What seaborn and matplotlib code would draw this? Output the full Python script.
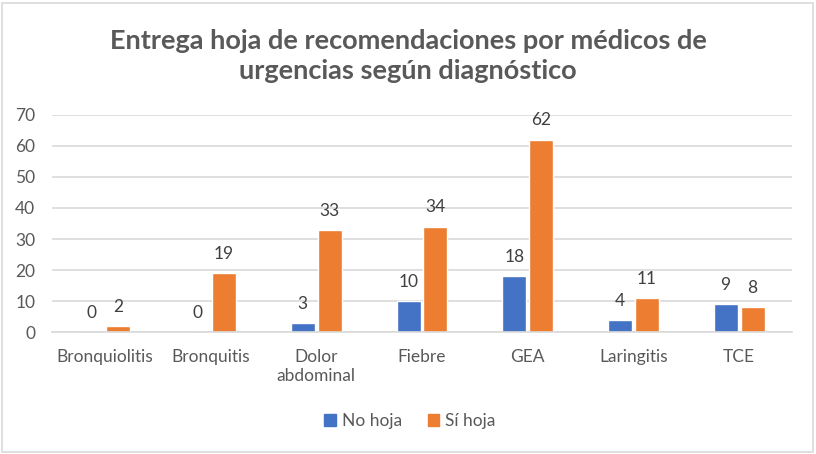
import matplotlib
matplotlib.use("Agg")
import matplotlib.pyplot as plt
import seaborn as sns
import pandas as pd
from matplotlib.patches import Rectangle

categories = ["Bronquiolitis", "Bronquitis", "Dolor\nabdominal", "Fiebre", "GEA", "Laringitis", "TCE"]
no_hoja = [0, 0, 3, 10, 18, 4, 9]
si_hoja = [2, 19, 33, 34, 62, 11, 8]
series = ["No hoja", "Sí hoja"]
title = "Entrega hoja de recomendaciones por médicos de\nurgencias según diagnóstico"

df = pd.DataFrame({
    "cat": categories * 2,
    "serie": [series[0]] * len(categories) + [series[1]] * len(categories),
    "val": no_hoja + si_hoja,
})

sns.set_theme(style="white")
plt.rcParams['font.family'] = ['Lato', 'DejaVu Sans']
txt = "#595959"

W, H = 816, 454
fig = plt.figure(figsize=(W / 100, H / 100), dpi=100)
ax = fig.add_axes([52 / W, 1 - 332.3 / H, 740 / W, (332.3 - 114.7) / H])

colors = {"No hoja": "#4472C4", "Sí hoja": "#ED7D31"}
sns.barplot(data=df, x="cat", y="val", hue="serie", palette=colors, ax=ax,
            width=0.51, gap=0.11, legend=False, saturation=1)

ax.set_ylim(0, 70)
ax.set_xlim(-0.5, len(categories) - 0.5)
ax.set_yticks(range(0, 71, 10))
ax.yaxis.grid(True, color="#D9D9D9", linewidth=1.2)
ax.set_axisbelow(True)
for s in ["top", "right", "left"]:
    ax.spines[s].set_visible(False)
ax.spines["bottom"].set_color("#D9D9D9")
ax.spines["bottom"].set_linewidth(1.2)
ax.set_xlabel("")
ax.set_ylabel("")
ax.tick_params(axis="both", length=0, labelsize=12.5, colors=txt)
ax.tick_params(axis="x", pad=12)
ax.tick_params(axis="y", pad=12)

for cont in ax.containers:
    ax.bar_label(cont, labels=[f"{int(v)}" for v in cont.datavalues],
                 padding=8, fontsize=12.5, color="#404040")

fig.text(408 / W, 1 - 56 / H, title, ha="center", va="center",
         fontsize=19.5, fontweight="bold", color=txt, linespacing=1.3)

# legend
handles = [Rectangle((0, 0), 1, 1, color=colors[s]) for s in series]
fig.legend(handles, series, loc="center", bbox_to_anchor=(410 / W, 1 - 421 / H),
           ncol=2, frameon=False, fontsize=12.5, handlelength=0.65, handleheight=0.65,
           handletextpad=0.35, columnspacing=1.5, labelcolor=txt)

# outer border
fig.patches.append(Rectangle((2 / W, 2 / H), (W - 5) / W, (H - 5) / H,
                             transform=fig.transFigure, fill=False,
                             edgecolor="#D9D9D9", linewidth=1.2))

fig.savefig("out.png", dpi=100)
